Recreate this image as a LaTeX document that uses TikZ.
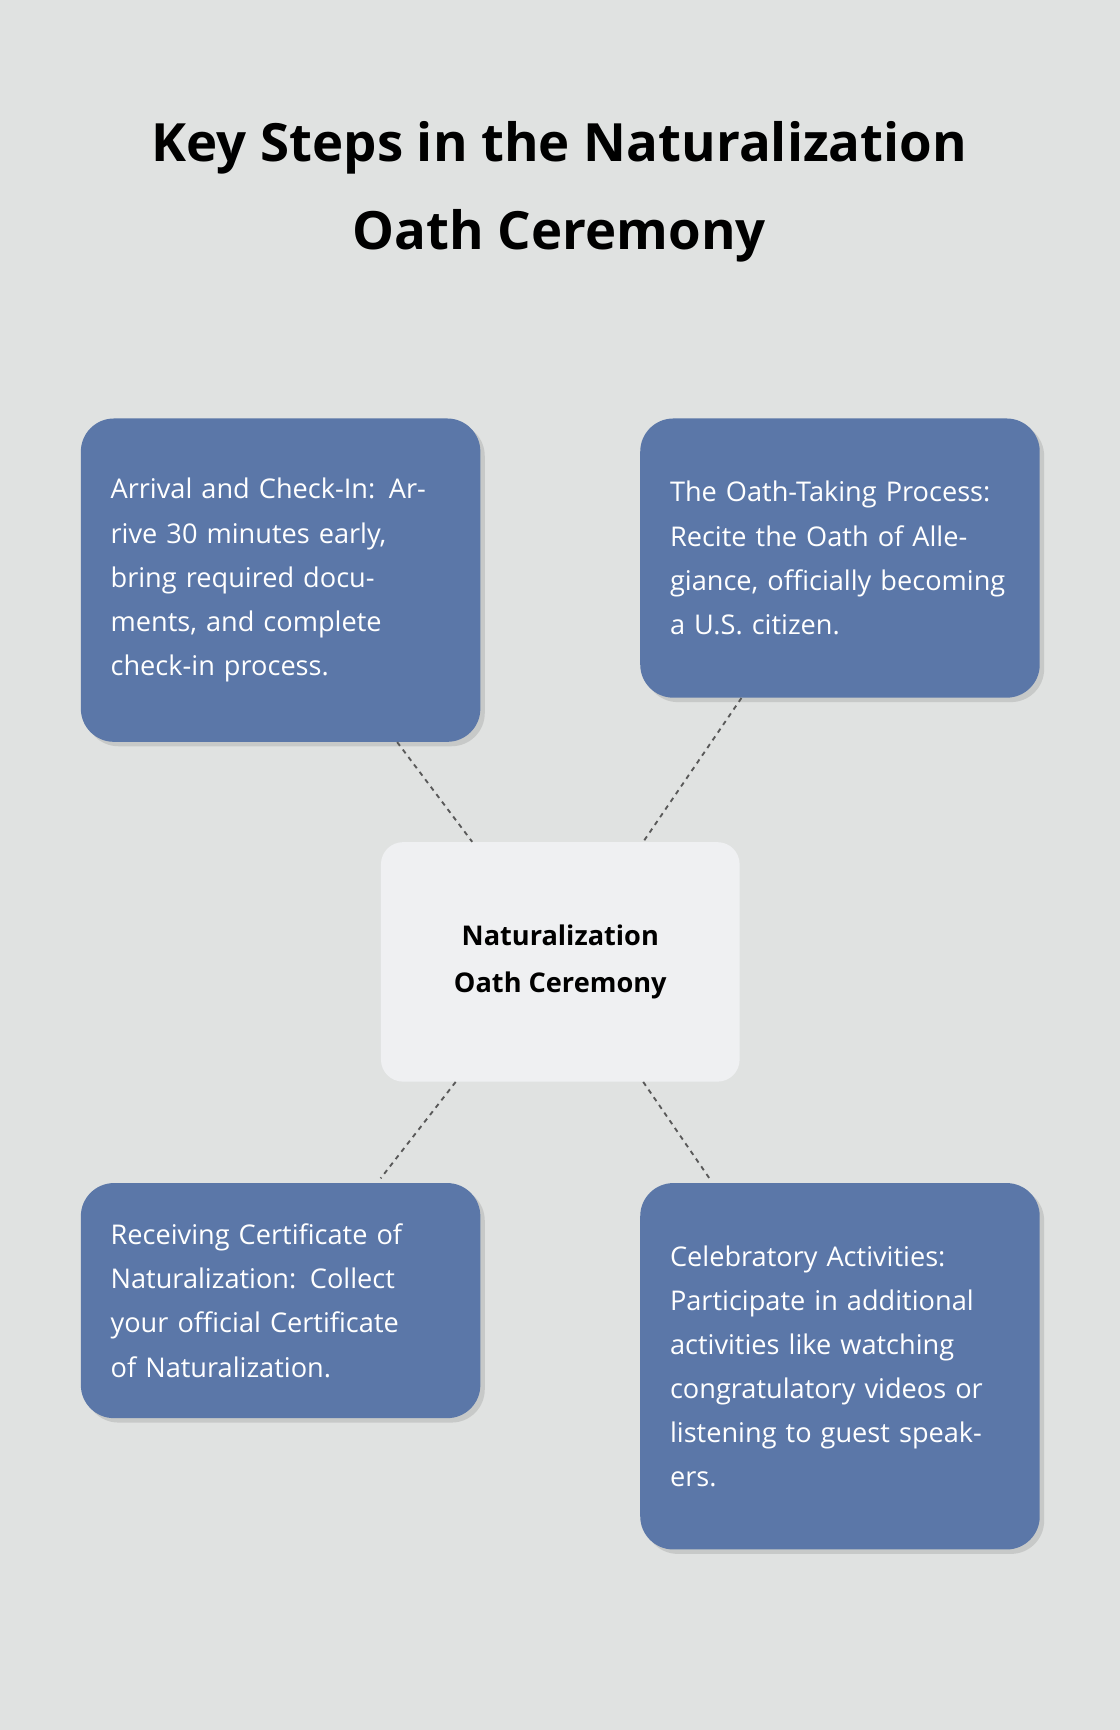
\documentclass[tikz,border=0pt]{standalone}
\usepackage{fontspec}
\setmainfont{Open Sans}
\usetikzlibrary{positioning,shadows,calc}
\definecolor{pagebg}{HTML}{E0E2E1}
\definecolor{stepblue}{HTML}{5B77A8}
\definecolor{hubfill}{HTML}{EFF0F2}
\begin{document}
\begin{tikzpicture}[x=0.025cm,y=-0.025cm,
		stepbox/.style={rectangle,rounded corners=0.75cm,fill=stepblue,text=white,
			anchor=north west,align=left,text width=7.7cm,inner xsep=0.675cm,
			minimum width=9.05cm,drop shadow={opacity=0.25,shadow xshift=0.1cm,shadow yshift=-0.1cm},
			font=\fontsize{17.5}{28.45}\selectfont},
		hub/.style={rectangle,rounded corners=0.5cm,fill=hubfill,anchor=north west,align=center,
			minimum width=8.125cm,minimum height=5.425cm,font=\bfseries\fontsize{17.5}{30.6}\selectfont},
		link/.style={draw=black!65,line width=1.2pt,dash pattern=on 3pt off 3pt}]
		\useasboundingbox[fill=pagebg] (0,0) rectangle (1015,1568);
		\node[align=center,font=\bfseries\fontsize{34}{57}\selectfont] (title) at (507,174)
			{Key Steps in the Naturalization\\Oath Ceremony};
		
		\node[stepbox,minimum height=7.325cm] (arrive) at (73,379)
			{Arrival and Check-In: Arrive 30 minutes early, bring required documents, and complete check-in process.};
		\node[stepbox,minimum height=6.325cm] (oath) at (580,379)
			{The Oath-Taking Process: Recite the Oath of Allegiance, officially becoming a U.S.~citizen.};
		\node[hub] (center) at (345,763) {Naturalization\\Oath Ceremony};
		\node[stepbox,minimum height=5.325cm] (cert) at (73,1072)
			{Receiving Certificate of Naturalization: Collect your official Certificate of Naturalization.};
		\node[stepbox,minimum height=8.3cm] (celebrate) at (580,1072)
			{Celebratory Activities: Participate in additional activities like watching congratulatory videos or listening to guest speakers.};
		
		\draw[link] ($(arrive.south west)+(287,0)$) -- ($(center.north west)+(83,0)$);
		\draw[link] ($(oath.south west)+(92,0)$) -- ($(center.north west)+(238,0)$);
		\draw[link] ($(center.south west)+(68,0)$) -- ($(cert.north west)+(272,-4)$);
		\draw[link] ($(center.south west)+(238,0)$) -- ($(celebrate.north west)+(63,-4)$);
	\end{tikzpicture}
\end{document}
